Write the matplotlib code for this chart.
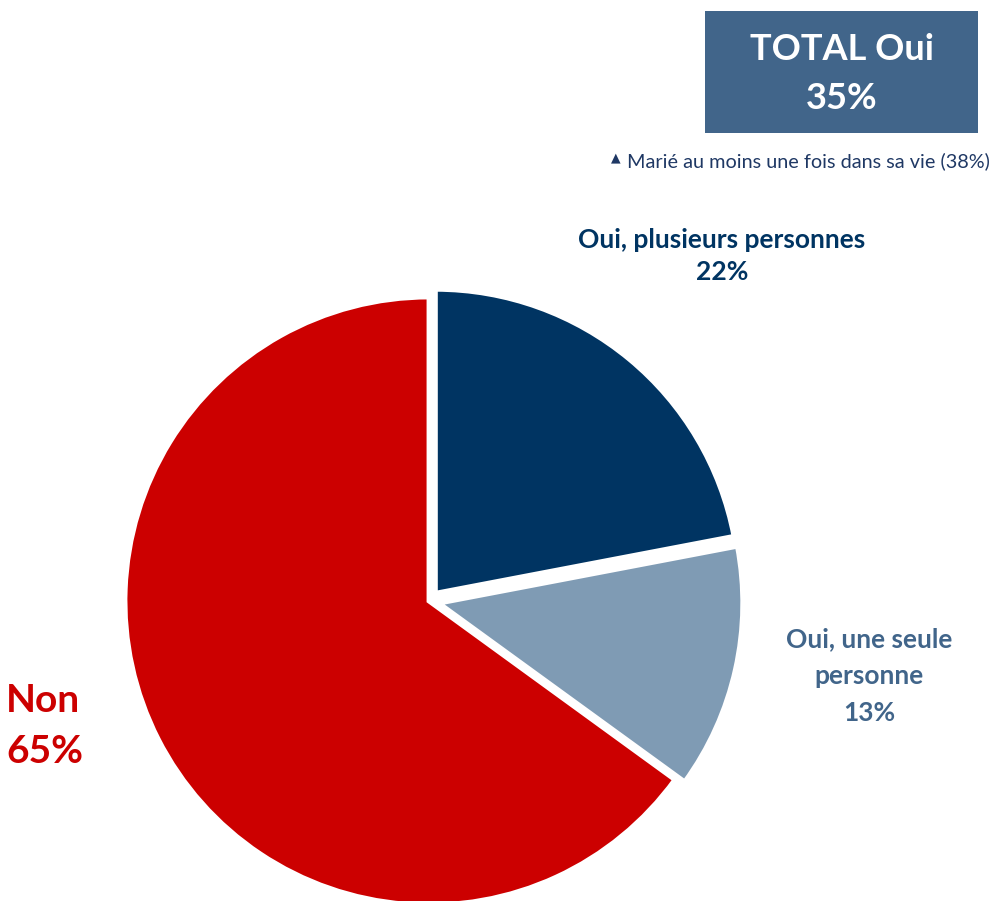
import matplotlib.pyplot as plt
from matplotlib.patches import Rectangle

# Data
labels = ["Oui, plusieurs personnes", "Oui, une seule\npersonne", "Non"]
values = [22, 13, 65]
colors = ["#003462", "#7F9BB4", "#CC0000"]
text_colors = ["#003462", "#41658A", "#CC0000"]
total_oui = 35
note = "Marié au moins une fois dans sa vie (38%)"

plt.rcParams['font.family'] = ['Lato', 'DejaVu Sans']

fig = plt.figure(figsize=(9.93, 9.01), dpi=100)
ax = fig.add_axes([0, 0, 1, 1])

# pie in pixel-like coordinates (y up); explode is in data units here
wedges, _ = ax.pie(
    values,
    colors=colors,
    startangle=90,
    counterclock=False,
    explode=[10, 10, 0],
    center=(429, 300),
    radius=304,
    frame=True,
    wedgeprops=dict(edgecolor='white', linewidth=3.5),
)
ax.set_xlim(0, 993)
ax.set_ylim(0, 901)
ax.set_axis_off()

# Labels around the pie
ax.text(722, 645, f"{labels[0]}\n{values[0]}%", ha='center', va='center',
        fontsize=19, fontweight='bold', color=text_colors[0], linespacing=1.4)
ax.text(869, 225, f"{labels[1]}\n{values[1]}%", ha='center', va='center',
        fontsize=19, fontweight='bold', color=text_colors[1], linespacing=1.65)
ax.text(6, 175, f"{labels[2]}\n{values[2]}%", ha='left', va='center',
        fontsize=28, fontweight='bold', color=text_colors[2], linespacing=1.55)

# TOTAL box
ax.add_patch(Rectangle((705, 901 - 133), 273, 122, facecolor='#41658A',
                       edgecolor='none'))
ax.text(842, 901 - 74, f"TOTAL Oui\n{total_oui}%", ha='center', va='center',
        fontsize=26, fontweight='bold', color='white', linespacing=1.6)

ax.text(990, 901 - 161, note, ha='right', va='center',
        fontsize=14.3, color='#1F3864')
ax.text(616, 901 - 158, "\u25B2", ha='center', va='center',
        fontsize=9, color='#1F3864', family='DejaVu Sans')

fig.savefig("out.png", dpi=100)
